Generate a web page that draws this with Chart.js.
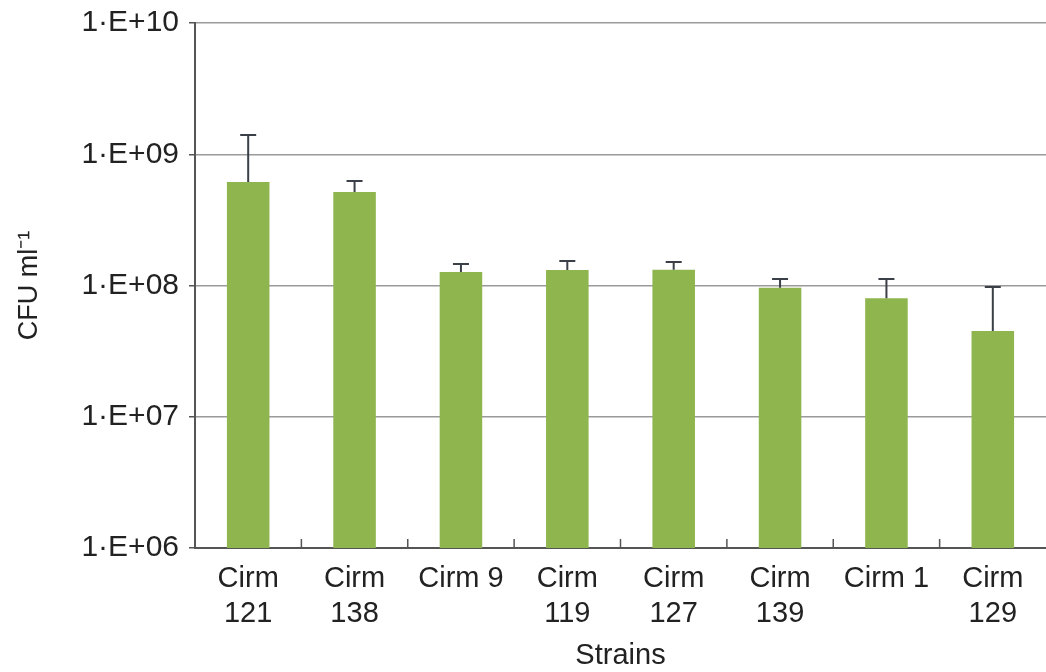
<!DOCTYPE html>
<html>
<head>
<meta charset="utf-8">
<script src="https://cdn.jsdelivr.net/npm/chart.js@4/dist/chart.umd.min.js"></script>
<style>
  html, body { margin: 0; padding: 0; background: #fff; }
  #wrap { width: 1046px; height: 672px; }
</style>
</head>
<body>
<div id="wrap"><canvas id="cfuChart"></canvas></div>
<script>
// strains and CFU counts
const strains = [['Cirm', '121'], ['Cirm', '138'], 'Cirm 9', ['Cirm', '119'], ['Cirm', '127'], ['Cirm', '139'], 'Cirm 1', ['Cirm', '129']];
const cfuMean = [6.15e8, 5.15e8, 1.27e8, 1.31e8, 1.32e8, 9.6e7, 8.0e7, 4.5e7];
const cfuUpper = [1.40e9, 6.25e8, 1.46e8, 1.54e8, 1.51e8, 1.12e8, 1.12e8, 9.75e7];
const yTickValues = [1e6, 1e7, 1e8, 1e9, 1e10];
const yTickLabels = ['1·E+06', '1·E+07', '1·E+08', '1·E+09', '1·E+10'];

const FONT = 'Liberation Sans, Arial, sans-serif';

// upper error bars + small category tick marks
const errorBars = {
    id: 'errorBars',
    afterDatasetsDraw(chart) {
        const ctx = chart.ctx;
        const x = chart.scales.x;
        const y = chart.scales.y;
        ctx.save();
        ctx.strokeStyle = '#3a3f48';
        ctx.lineWidth = 2;
        cfuMean.forEach((v, i) => {
            const cx = x.getPixelForValue(i);
            const y0 = y.getPixelForValue(v);
            const y1 = y.getPixelForValue(cfuUpper[i]);
            ctx.beginPath();
            ctx.moveTo(cx, y0);
            ctx.lineTo(cx, y1);
            ctx.moveTo(cx - 8, y1);
            ctx.lineTo(cx + 8, y1);
            ctx.stroke();
        });
        // tick marks between categories, pointing up
        ctx.strokeStyle = '#555';
        ctx.lineWidth = 1.5;
        const bottom = chart.chartArea.bottom;
        for (let i = 1; i < strains.length; i++) {
            const bx = (x.getPixelForValue(i - 1) + x.getPixelForValue(i)) / 2;
            ctx.beginPath();
            ctx.moveTo(bx, bottom);
            ctx.lineTo(bx, bottom - 9);
            ctx.stroke();
        }
        ctx.restore();
    }
};

new Chart(document.getElementById('cfuChart'), {
    type: 'bar',
    data: {
        labels: strains,
        datasets: [{
            data: cfuMean,
            backgroundColor: '#8fb54e',
            borderWidth: 0,
            barPercentage: 0.8,
            categoryPercentage: 0.5
        }]
    },
    options: {
        responsive: true,
        maintainAspectRatio: false,
        animation: false,
        layout: { padding: { top: 23, left: 6, right: 0, bottom: 0 } },
        plugins: {
            legend: { display: false },
            tooltip: { enabled: false }
        },
        scales: {
            x: {
                grid: { display: false },
                border: { color: '#555', width: 2 },
                ticks: {
                    color: '#222',
                    font: { family: FONT, size: 29, lineHeight: 1.2 },
                    padding: 6,
                    maxRotation: 0,
                    autoSkip: false
                },
                title: {
                    display: true,
                    text: 'Strains',
                    color: '#222',
                    font: { family: FONT, size: 29 },
                    padding: { top: 0, bottom: -1 }
                },
                afterFit(scale) {
                    scale.height = 124;
                    scale.paddingLeft = 0;
                    scale.paddingRight = 0;
                }
            },
            y: {
                type: 'logarithmic',
                min: 1e6,
                max: 1e10,
                afterBuildTicks(scale) {
                    scale.ticks = yTickValues.map(v => ({ value: v }));
                },
                grid: { color: '#9a9a9a', lineWidth: 1.5, tickLength: 6, tickColor: '#555' },
                border: { color: '#555', width: 2 },
                ticks: {
                    color: '#222',
                    font: { family: FONT, size: 30 },
                    padding: 10,
                    callback(value) {
                        const i = yTickValues.indexOf(value);
                        return i >= 0 ? yTickLabels[i] : '';
                    }
                },
                title: {
                    display: true,
                    text: 'CFU ml⁻¹',
                    color: '#222',
                    font: { family: FONT, size: 27 },
                    padding: { top: 7, bottom: 0 }
                },
                afterFit(scale) {
                    scale.width = 189;
                    scale.paddingTop = 0;
                    scale.paddingBottom = 0;
                }
            }
        }
    },
    plugins: [errorBars]
});
</script>
</body>
</html>
